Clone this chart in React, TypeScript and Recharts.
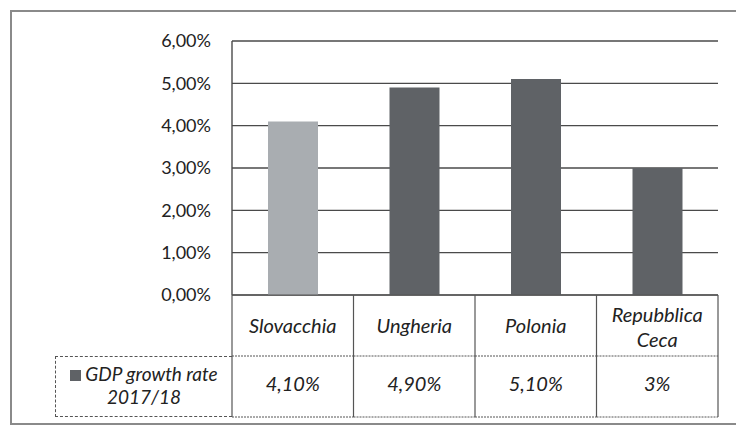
import { BarChart, Bar, XAxis, YAxis, CartesianGrid, Cell, Legend } from 'recharts'

const countries = ['Slovacchia', 'Ungheria', 'Polonia', 'Repubblica Ceca']
const growth = [0.041, 0.049, 0.051, 0.03]
const valueLabels = ['4,10%', '4,90%', '5,10%', '3%']
const yTicks = [0, 0.01, 0.02, 0.03, 0.04, 0.05, 0.06]
const barColors = ['#a9adb1', '#5f6266', '#5f6266', '#5f6266']
const seriesName = 'GDP growth rate 2017/18'

const FONT = 'Lato, "Open Sans", sans-serif'
const LINE = '#555'

const chartData = countries.map((name, i) => ({ name, value: growth[i], label: valueLabels[i] }))

// x axis ticks draw the data table under the bars (one column per category)
const TableTick = (props: any) => {
  const { x, y, payload, index, width, visibleTicksCount } = props
  const half = width / visibleTicksCount / 2
  const left = x - half
  const right = x + half
  const mid = y + 61
  const bottom = y + 122
  const lines: string[] = String(payload.value).split(' ')
  const first = lines.length > 1 ? y + 27 : y + 38
  return (
    <g>
      <line x1={left} y1={y} x2={left} y2={bottom} stroke={LINE} strokeWidth={1.2} />
      {index === visibleTicksCount - 1 && (
        <line x1={right} y1={y} x2={right} y2={bottom} stroke={LINE} strokeWidth={1.2} />
      )}
      <line x1={left} y1={mid} x2={right} y2={mid} stroke={LINE} strokeWidth={1} strokeDasharray="2 1" />
      <line x1={left} y1={bottom} x2={right} y2={bottom} stroke={LINE} strokeWidth={1} strokeDasharray="2 1" />
      {lines.map((t, i) => (
        <text key={i} x={x} y={first + i * 25} textAnchor="middle" fontSize={20} fontStyle="italic" fill="#222" fontFamily={FONT}>
          {t}
        </text>
      ))}
      <text x={x} y={mid + 35} textAnchor="middle" fontSize={20} fontStyle="italic" fill="#222" fontFamily={FONT}>
        {valueLabels[index]}
      </text>
    </g>
  )
}

const LegendCell = ({ payload }: any) => {
  const item = payload && payload[0]
  if (!item) return null
  const words = String(item.value).split(' ')
  return (
    <div
      style={{
        width: 177,
        height: 61,
        boxSizing: 'border-box',
        borderTop: `1px dashed ${LINE}`,
        borderLeft: `1px dashed ${LINE}`,
        borderBottom: `1px dashed ${LINE}`,
        fontFamily: FONT,
        fontStyle: 'italic',
        fontSize: 19,
        lineHeight: '23px',
        color: '#222',
        textAlign: 'center',
        paddingTop: 5,
      }}
    >
      <span style={{ display: 'inline-block', width: 11, height: 11, background: item.color, marginRight: 4 }} />
      {words.slice(0, -1).join(' ')}
      <br />
      {words[words.length - 1]}
    </div>
  )
}

const fmtPct = (v: number) => (v * 100).toFixed(2).replace('.', ',') + '%'

export default function App() {
  return (
    <div style={{ position: 'absolute', left: 0, top: 0, width: 736, height: 427, overflow: 'hidden', background: '#fff' }}>
      <div
        style={{
          position: 'absolute',
          left: 10,
          top: 10,
          width: 760,
          height: 415,
          border: '2px solid #8a8a8a',
          boxSizing: 'border-box',
        }}
      />
      <BarChart
        width={736}
        height={427}
        data={chartData}
        margin={{ top: 41, right: 18, bottom: 0, left: 0 }}
        barCategoryGap="0%"
      >
        <CartesianGrid vertical={false} stroke="#4a4a4a" strokeWidth={1.4} />
        <YAxis
          width={232}
          domain={[0, 0.06]}
          ticks={yTicks}
          tickFormatter={fmtPct}
          tickLine={false}
          tickSize={0}
          tickMargin={21}
          axisLine={{ stroke: '#4a4a4a', strokeWidth: 1.4 }}
          tick={{ fill: '#222', fontSize: 18, fontFamily: FONT }}
        />
        <XAxis
          dataKey="name"
          height={132}
          interval={0}
          tickLine={false}
          tickSize={0}
          tickMargin={0}
          axisLine={{ stroke: LINE, strokeWidth: 1 }}
          tick={<TableTick />}
        />
        <Legend
          layout="horizontal"
          verticalAlign="middle"
          align="center"
          content={<LegendCell />}
          wrapperStyle={{ left: 55, top: 356, width: 177, height: 61 }}
        />
        <Bar dataKey="value" name={seriesName} fill="#5f6266" barSize={50} isAnimationActive={false}>
          {chartData.map((d, i) => (
            <Cell key={d.name} fill={barColors[i]} />
          ))}
        </Bar>
      </BarChart>
    </div>
  )
}
